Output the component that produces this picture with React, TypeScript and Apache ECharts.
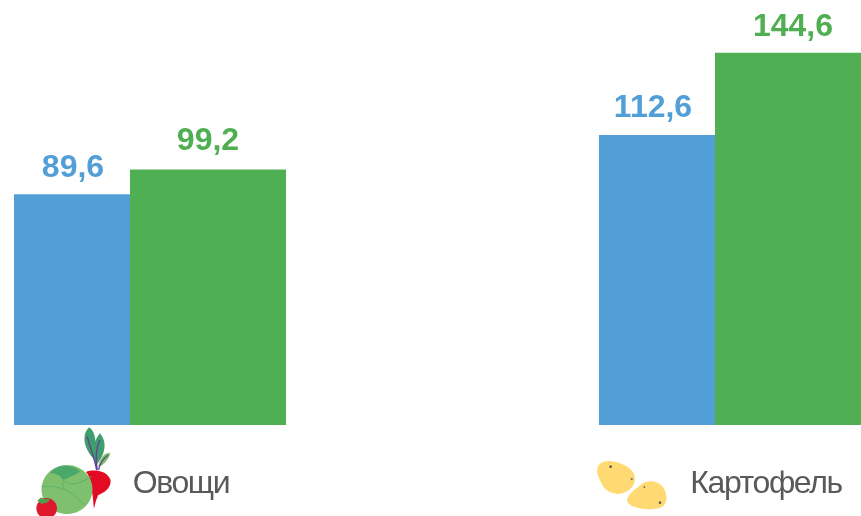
import React, { useEffect, useRef } from "react";
import * as echarts from "echarts";

const categories = ["Овощи", "Картофель"];
const seriesBlue = [89.6, 112.6];
const seriesGreen = [99.2, 144.6];
const blueLabelNudge = [[1, -1], [-4, -2]];
const greenLabelNudge = [[0, -4], [0, -1]];

const BLUE = "#529FD8";
const GREEN = "#50AF52";

const shapes: Record<string, string> = {
  potatoA: "M52 178 C55 155 80 148 110 157 C140 165 165 180 165 207 C165 235 135 252 112 252 C85 250 70 235 62 215 C55 200 50 190 52 178Z",
  potatoB: "M142 268 C145 250 170 235 185 222 C205 208 235 212 250 232 C262 250 265 280 245 292 C220 302 180 298 160 290 C148 284 140 278 142 268Z",
  leafA: "M268 52 C248 70 245 110 285 150 C288 110 292 70 268 52Z",
  leafB: "M300 70 C280 95 272 130 290 165 C318 130 322 95 300 70Z",
  leafC: "M295 172 C300 140 318 125 331 130 C326 150 312 165 295 172Z",
  stems: "M290 180 C285 150 270 110 262 80 M292 180 C285 140 290 110 300 90 M296 180 C300 160 310 145 325 135",
  radish: "M258 186 C280 178 320 180 332 210 C335 235 310 250 295 255 C288 270 285 285 282 297 C280 280 280 260 275 240 C275 220 270 200 258 186Z",
  cabTop: "M150 190 C170 162 215 160 242 185 C225 195 205 205 190 210 C180 195 165 190 150 190Z",
  cabVeins: "M125 230 C170 225 220 240 250 285 M190 210 C205 225 225 230 275 200 M190 210 C185 220 190 235 195 240",
  stalk: "M112 272 L125 262 L132 268 L150 266 L145 276 L125 282Z",
};
Object.entries(shapes).forEach(([name, d]) => {
  echarts.graphic.registerShape(name, echarts.graphic.extendPath(d as any, {}));
});

const px = (type: string, fill: string) => ({
  type, x: 0, y: 410, scaleX: 1 / 3, scaleY: 1 / 3, style: { fill },
});
const line = (type: string, stroke: string, lineWidth: number) => ({
  type, x: 0, y: 410, scaleX: 1 / 3, scaleY: 1 / 3, style: { fill: "none", stroke, lineWidth },
});
const dot = (ox: number, zx: number, zy: number, r: number, fill: string) => ({
  type: "circle", shape: { cx: ox + zx / 3, cy: 410 + zy / 3, r: r / 3 }, style: { fill },
});

const graphics = [
  px("leafA", "#3E9E6C"),
  px("leafB", "#3E9E6C"),
  px("leafC", "#7FBF6E"),
  line("stems", "#6A3D9A", 4),
  px("radish", "#E30B23"),
  { type: "ellipse", shape: { cx: 67, cy: 489.5, rx: 25.5, ry: 24.5 }, style: { fill: "#7FC06E" } },
  px("cabTop", "#4BA86B"),
  line("cabVeins", "#55AE6C", 2.5),
  dot(0, 140, 295, 31, "#E0182D"),
  px("stalk", "#4E9F50"),
  { ...px("potatoA", "#FFDA72"), x: 580 },
  { ...px("potatoB", "#FFDA72"), x: 580 },
  dot(580, 92, 170, 4, "#5A5A5A"),
  dot(580, 155, 207, 3, "#6A6A6A"),
  dot(580, 76, 217, 2, "#6A6A6A"),
  dot(580, 193, 231, 2.5, "#6A6A6A"),
  dot(580, 240, 278, 4, "#5A5A5A"),
];

const labelStyle = (color: string) => ({
  show: true,
  position: "top" as const,
  distance: 11,
  color,
  fontFamily: "Liberation Sans",
  fontWeight: "bold" as const,
  fontSize: 32,
  formatter: (p: any) => String(p.value).replace(".", ","),
});

const withNudge = (values: number[], nudges: number[][]) =>
  values.map((value, i) => ({ value, label: { offset: nudges[i] } }));

export default function App() {
  const ref = useRef<HTMLDivElement>(null);
  useEffect(() => {
    const chart = echarts.init(ref.current!, undefined, { renderer: "svg" });
    chart.setOption({
      animation: false,
      grid: { left: -142.5, width: 1170, top: 13, height: 412, outerBoundsMode: "none" },
      xAxis: {
        type: "category",
        data: categories,
        axisLine: { show: false },
        axisTick: { show: false },
        axisLabel: {
          color: "#595959",
          fontFamily: "Liberation Sans",
          fontSize: 32,
          margin: 41,
          padding: [0, 0, 0, 62],
        },
      },
      yAxis: { type: "value", min: 0, max: 160, show: false, splitLine: { show: false } },
      series: [
        { type: "bar", data: withNudge(seriesBlue, blueLabelNudge), barWidth: 116, barGap: 0, itemStyle: { color: BLUE }, label: labelStyle(BLUE) },
        { type: "bar", data: withNudge(seriesGreen, greenLabelNudge), barWidth: 156, barGap: 0, itemStyle: { color: GREEN }, label: labelStyle(GREEN) },
      ],
      graphic: graphics,
    });
    ref.current!.querySelectorAll("text").forEach((t) => {
      if (categories.includes((t.textContent || "").trim())) {
        (t as SVGTextElement).style.letterSpacing = "-1.4px";
      }
    });
    return () => chart.dispose();
  }, []);
  return <div ref={ref} style={{ position: "fixed", left: 0, top: 0, width: 861, height: 516 }} />;
}
